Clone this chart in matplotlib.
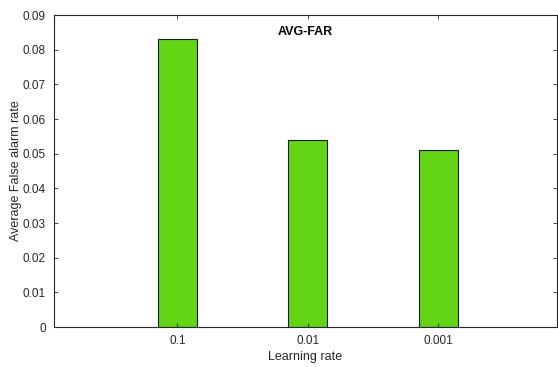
import matplotlib
matplotlib.use("Agg")
import matplotlib.pyplot as plt

# data
rates = ["0.1", "0.01", "0.001"]
avg_far = [0.083, 0.054, 0.051]
yticks = [0, 0.01, 0.02, 0.03, 0.04, 0.05, 0.06, 0.07, 0.08, 0.09]

BAR_C, EDGE, AX_C = "#62d515", "#1a1a1a", "#262626"

plt.rcParams.update({
    "font.family": ["Liberation Sans", "DejaVu Sans"], "font.size": 8,
    "axes.edgecolor": AX_C, "axes.linewidth": 0.8,
    "xtick.color": AX_C, "ytick.color": AX_C,
})

fig = plt.figure(figsize=(5.58, 3.67), dpi=100)
ax = fig.add_axes([54 / 558, 1 - 327 / 367, 503 / 558, 312 / 367])

pos = list(range(1, len(rates) + 1))
ax.bar(pos, avg_far, width=0.3, color=BAR_C, edgecolor=EDGE, linewidth=0.8)

ax.set_xlim(0.055, 3.91)
ax.set_ylim(0, 0.09)
ax.set_xticks(pos)
ax.set_xticklabels(rates)
ax.set_yticks(yticks)
ax.set_yticklabels([f"{t:g}" for t in yticks])
ax.tick_params(direction="in", top=True, right=True, length=3, width=0.6,
               labelsize=8.5, pad=6)

ax.set_xlabel("Learning rate", fontsize=9, color=AX_C, labelpad=2.5)
ax.set_ylabel("Average False alarm rate", fontsize=9, color=AX_C, labelpad=0.5)
ax.text(0.5, 0.965, "AVG-FAR", transform=ax.transAxes, ha="center", va="top",
        fontsize=9, fontweight="bold", color="black")

fig.savefig("out.png", dpi=100)
